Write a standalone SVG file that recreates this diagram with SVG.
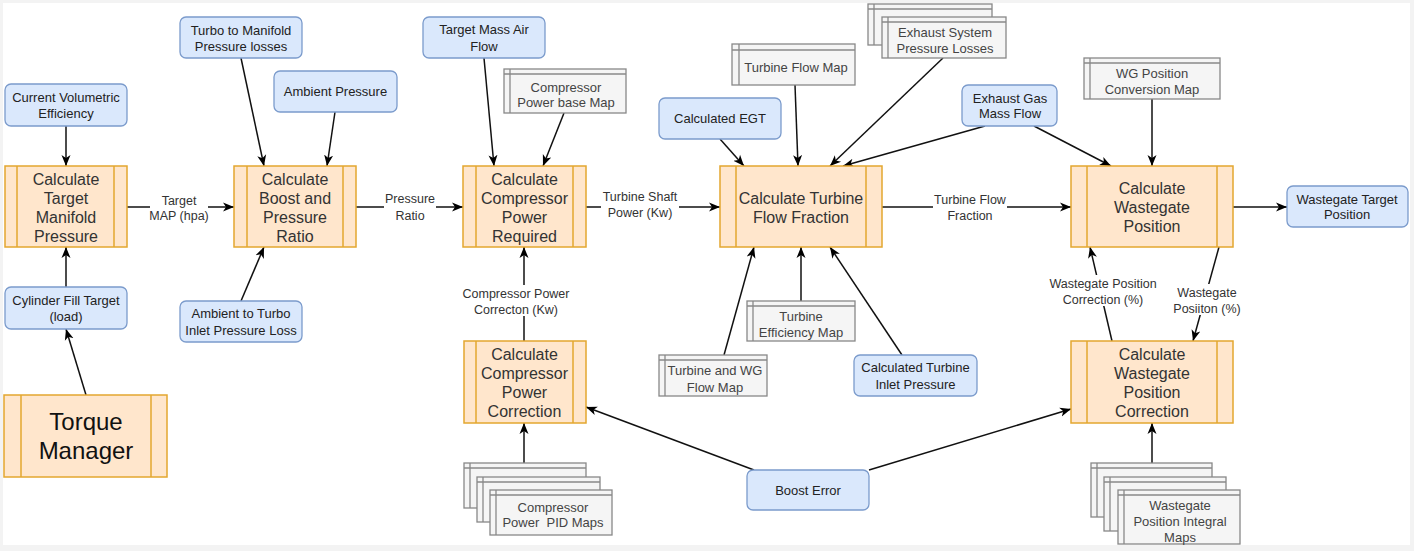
<svg xmlns="http://www.w3.org/2000/svg" width="1414" height="551" viewBox="0 0 1414 551">
<defs>
<marker id="arr" markerUnits="userSpaceOnUse" markerWidth="12" markerHeight="12" refX="11" refY="6" orient="auto">
<path d="M0,1.5 L11,6 L0,10.5 L3,6 Z" fill="#000"/>
</marker>
<style>
text{font-family:"Liberation Sans",Arial,sans-serif;text-anchor:middle}
.proc rect{fill:#ffe6cc;stroke:#e3a72f;stroke-width:1.5}
.proc line{stroke:#e3a72f;stroke-width:1.5}
.proc text{font-size:16px;fill:#333}
.proc text.big{font-size:24px;fill:#111}
.blue rect{fill:#dae8fc;stroke:#7b9bcc;stroke-width:1.3}
.blue text{font-size:13px;fill:#222}
.map rect{fill:#f5f5f5;stroke:#888;stroke-width:1.3}
.map line{stroke:#888;stroke-width:1.3}
.map text{font-size:13px;fill:#444}
.conn line{stroke:#111;stroke-width:1.5;marker-end:url(#arr)}
.lbl rect{fill:#fff}
.lbl text{font-size:12.5px;fill:#333}
</style>
</defs>
<rect x="0" y="0" width="1414" height="551" fill="#f3f3f3"/>
<rect x="3" y="3" width="1407" height="542" fill="#fff"/>

<g id="connectors" class="conn">
<line x1="66" y1="126" x2="66" y2="166"/>
<line x1="66" y1="287" x2="66" y2="247"/>
<line x1="86" y1="395" x2="66" y2="329"/>
<line x1="127" y1="207" x2="234" y2="207"/>
<line x1="241" y1="58" x2="264" y2="166"/>
<line x1="335" y1="112" x2="327" y2="166"/>
<line x1="241" y1="301" x2="264" y2="247"/>
<line x1="356" y1="207" x2="463" y2="207"/>
<line x1="484" y1="58" x2="494" y2="166"/>
<line x1="564" y1="113" x2="543" y2="166"/>
<line x1="586" y1="207" x2="720" y2="207"/>
<line x1="524" y1="341" x2="524" y2="247"/>
<line x1="524" y1="463" x2="524" y2="423"/>
<line x1="754" y1="470" x2="586" y2="407"/>
<line x1="720" y1="139" x2="744" y2="166"/>
<line x1="795" y1="85" x2="798" y2="166"/>
<line x1="943" y1="58" x2="830" y2="166"/>
<line x1="985" y1="126" x2="843" y2="166"/>
<line x1="724" y1="355" x2="754" y2="247"/>
<line x1="801" y1="301" x2="801" y2="247"/>
<line x1="902" y1="355" x2="830" y2="247"/>
<line x1="882" y1="207" x2="1071" y2="207"/>
<line x1="1034" y1="126" x2="1111" y2="166"/>
<line x1="1152" y1="99" x2="1152" y2="166"/>
<line x1="1233" y1="207" x2="1287" y2="207"/>
<line x1="1112" y1="341" x2="1090" y2="247"/>
<line x1="1219" y1="247" x2="1193" y2="341"/>
<line x1="869" y1="470" x2="1071" y2="409"/>
<line x1="1152" y1="463" x2="1152" y2="423"/>
</g>

<g id="edge-labels" class="lbl">
<rect x="150" y="192" width="58" height="31"/>
<text x="179" y="204.5">Target</text><text x="179" y="220">MAP (hpa)</text>
<rect x="384" y="190" width="52" height="31"/>
<text x="410" y="203">Pressure</text><text x="410" y="219.5">Ratio</text>
<rect x="601" y="188" width="78" height="31"/>
<text x="640" y="200.5">Turbine Shaft</text><text x="640" y="216.5">Power (Kw)</text>
<rect x="933" y="191" width="74" height="31"/>
<text x="970" y="203.5">Turbine Flow</text><text x="970" y="219.5">Fraction</text>
<rect x="462" y="285" width="108" height="31"/>
<text x="516" y="297.5">Compressor Power</text><text x="516" y="313.5">Correcton (Kw)</text>
<rect x="1049" y="275" width="108" height="31"/>
<text x="1103" y="287.5">Wastegate Position</text><text x="1103" y="303.5">Correction (%)</text>
<rect x="1170" y="284" width="74" height="31"/>
<text x="1207" y="296.5">Wastegate</text><text x="1207" y="312.5">Posiiton (%)</text>
</g>

<g id="n-target-manifold" class="proc">
<rect x="5" y="166" width="122" height="81"/><line x1="17" y1="166" x2="17" y2="247"/><line x1="114" y1="166" x2="114" y2="247"/>
<text x="66" y="184.6">Calculate</text><text x="66" y="203.6">Target</text><text x="66" y="222.6">Manifold</text><text x="66" y="241.6">Pressure</text>
</g>
<g id="n-boost" class="proc">
<rect x="234" y="166" width="122" height="81"/><line x1="247" y1="166" x2="247" y2="247"/><line x1="343" y1="166" x2="343" y2="247"/>
<text x="295" y="184.6">Calculate</text><text x="295" y="203.6">Boost and</text><text x="295" y="222.6">Pressure</text><text x="295" y="241.6">Ratio</text>
</g>
<g id="n-comp-required" class="proc">
<rect x="463" y="166" width="123" height="81"/><line x1="476" y1="166" x2="476" y2="247"/><line x1="573" y1="166" x2="573" y2="247"/>
<text x="524.5" y="184.6">Calculate</text><text x="524.5" y="203.6">Compressor</text><text x="524.5" y="222.6">Power</text><text x="524.5" y="241.6">Required</text>
</g>
<g id="n-turbine-flow" class="proc">
<rect x="720" y="166" width="162" height="81"/><line x1="736" y1="166" x2="736" y2="247"/><line x1="866" y1="166" x2="866" y2="247"/>
<text x="801" y="203.6">Calculate Turbine</text><text x="801" y="222.6">Flow Fraction</text>
</g>
<g id="n-wastegate" class="proc">
<rect x="1071" y="166" width="162" height="81"/><line x1="1087" y1="166" x2="1087" y2="247"/><line x1="1217" y1="166" x2="1217" y2="247"/>
<text x="1152" y="193.6">Calculate</text><text x="1152" y="212.6">Wastegate</text><text x="1152" y="231.6">Position</text>
</g>
<g id="n-comp-correction" class="proc">
<rect x="464" y="341" width="122" height="82"/><line x1="476" y1="341" x2="476" y2="423"/><line x1="573" y1="341" x2="573" y2="423"/>
<text x="524.5" y="359.6">Calculate</text><text x="524.5" y="378.6">Compressor</text><text x="524.5" y="397.6">Power</text><text x="524.5" y="416.6">Correction</text>
</g>
<g id="n-wg-correction" class="proc">
<rect x="1071" y="341" width="162" height="82"/><line x1="1087" y1="341" x2="1087" y2="423"/><line x1="1217" y1="341" x2="1217" y2="423"/>
<text x="1152" y="359.6">Calculate</text><text x="1152" y="378.6">Wastegate</text><text x="1152" y="397.6">Position</text><text x="1152" y="416.6">Correction</text>
</g>
<g id="n-torque" class="proc">
<rect x="4" y="395" width="163" height="82"/><line x1="21" y1="395" x2="21" y2="477"/><line x1="151" y1="395" x2="151" y2="477"/>
<text class="big" x="86" y="430.4">Torque</text><text class="big" x="86" y="459.4">Manager</text>
</g>

<g id="n-vol-eff" class="blue"><rect x="5" y="84" width="122" height="42" rx="6"/>
<text x="66" y="101.6">Current Volumetric</text><text x="66" y="117.6">Efficiency</text></g>
<g id="n-cyl-fill" class="blue"><rect x="5" y="287" width="122" height="42" rx="6"/>
<text x="66" y="304.6">Cylinder Fill Target</text><text x="66" y="320.6">(load)</text></g>
<g id="n-turbo-manifold" class="blue"><rect x="180" y="17" width="122" height="41" rx="6"/>
<text x="241" y="34.6">Turbo to Manifold</text><text x="241" y="50.6">Pressure losses</text></g>
<g id="n-ambient" class="blue"><rect x="274" y="71" width="123" height="41" rx="6"/>
<text x="335.5" y="95.6">Ambient Pressure</text></g>
<g id="n-ambient-turbo" class="blue"><rect x="180" y="301" width="122" height="41" rx="6"/>
<text x="241" y="317.6">Ambient to Turbo</text><text x="241" y="334.6">Inlet Pressure Loss</text></g>
<g id="n-mass-air" class="blue"><rect x="423" y="17" width="122" height="41" rx="6"/>
<text x="484" y="33.6">Target Mass Air</text><text x="484" y="50.6">Flow</text></g>
<g id="n-egt" class="blue"><rect x="659" y="98" width="122" height="41" rx="6"/>
<text x="720" y="122.6">Calculated EGT</text></g>
<g id="n-turbine-inlet" class="blue"><rect x="854" y="355" width="123" height="41" rx="6"/>
<text x="915.5" y="371.6">Calculated Turbine</text><text x="915.5" y="388.6">Inlet Pressure</text></g>
<g id="n-boost-error" class="blue"><rect x="747" y="470" width="122" height="40" rx="6"/>
<text x="808" y="494.6">Boost Error</text></g>
<g id="n-exhaust-flow" class="blue"><rect x="962" y="85" width="95" height="41" rx="6"/>
<text x="1010" y="102.6">Exhaust Gas</text><text x="1010" y="117.6">Mass Flow</text></g>
<g id="n-wg-target" class="blue"><rect x="1287" y="186" width="121" height="41" rx="6"/>
<text x="1347" y="203.6">Wastegate Target</text><text x="1347" y="218.6">Position</text></g>

<g id="n-comp-base-map" class="map"><rect x="504" y="69" width="122" height="44"/>
<line x1="504" y1="74" x2="626" y2="74"/><line x1="510" y1="69" x2="510" y2="113"/>
<text x="566" y="91.6">Compressor</text><text x="566" y="106.6">Power base Map</text></g>
<g id="n-turbine-flow-map" class="map"><rect x="732" y="44" width="123" height="41"/>
<line x1="732" y1="50" x2="855" y2="50"/><line x1="739" y1="44" x2="739" y2="85"/>
<text x="796" y="71.6">Turbine Flow Map</text></g>
<g id="n-exhaust-losses" class="map">
<rect x="868" y="4" width="124" height="41"/><line x1="868" y1="9" x2="992" y2="9"/><line x1="874" y1="4" x2="874" y2="45"/>
<rect x="882" y="17" width="124" height="41"/><line x1="882" y1="22" x2="1006" y2="22"/><line x1="888" y1="17" x2="888" y2="58"/>
<text x="945" y="36.6">Exhaust System</text><text x="945" y="52.6">Pressure Losses</text></g>
<g id="n-wg-conv-map" class="map"><rect x="1084" y="58" width="136" height="41"/>
<line x1="1084" y1="63" x2="1220" y2="63"/><line x1="1090" y1="58" x2="1090" y2="99"/>
<text x="1152" y="77.6">WG Position</text><text x="1152" y="93.6">Conversion Map</text></g>
<g id="n-turbine-wg-map" class="map"><rect x="659" y="355" width="108" height="41"/>
<line x1="659" y1="360" x2="767" y2="360"/><line x1="665" y1="355" x2="665" y2="396"/>
<text x="715" y="374.6">Turbine and WG</text><text x="715" y="391.6">Flow Map</text></g>
<g id="n-turbine-eff-map" class="map"><rect x="747" y="301" width="108" height="40"/>
<line x1="747" y1="306" x2="855" y2="306"/><line x1="753" y1="301" x2="753" y2="341"/>
<text x="801" y="320.6">Turbine</text><text x="801" y="336.6">Efficiency Map</text></g>
<g id="n-comp-pid-maps" class="map">
<rect x="464" y="463" width="122" height="45"/><line x1="464" y1="468" x2="586" y2="468"/><line x1="470" y1="463" x2="470" y2="508"/>
<rect x="477" y="477" width="123" height="45"/><line x1="477" y1="482" x2="600" y2="482"/><line x1="483" y1="477" x2="483" y2="522"/>
<rect x="490" y="490" width="122" height="45"/><line x1="490" y1="495" x2="612" y2="495"/><line x1="496" y1="490" x2="496" y2="535"/>
<text x="553" y="511.6">Compressor</text><text x="553" y="526.6" style="white-space:pre">Power  PID Maps</text></g>
<g id="n-wg-integral-maps" class="map">
<rect x="1091" y="463" width="121" height="54"/><line x1="1091" y1="468" x2="1212" y2="468"/><line x1="1097" y1="463" x2="1097" y2="517"/>
<rect x="1104" y="477" width="122" height="54"/><line x1="1104" y1="482" x2="1226" y2="482"/><line x1="1110" y1="477" x2="1110" y2="531"/>
<rect x="1118" y="490" width="122" height="54"/><line x1="1118" y1="495" x2="1240" y2="495"/><line x1="1124" y1="490" x2="1124" y2="544"/>
<text x="1180" y="509.6">Wastegate</text><text x="1180" y="525.6">Position Integral</text><text x="1180" y="541.6">Maps</text></g>
</svg>
